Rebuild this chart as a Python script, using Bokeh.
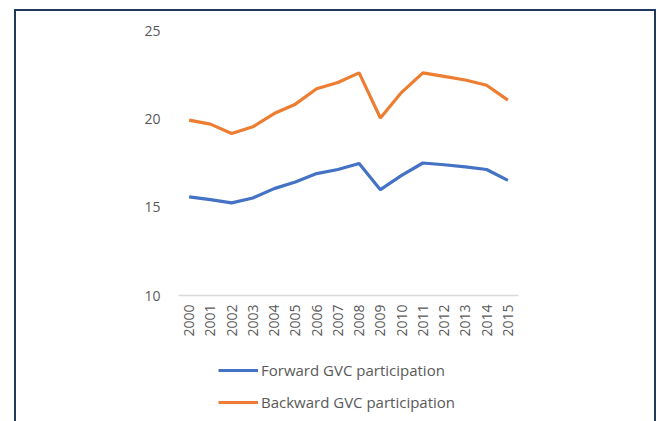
import math
from bokeh.plotting import figure
from bokeh.layouts import column
from bokeh.models import FixedTicker, Legend, LegendItem
from bokeh.embed import file_html
from bokeh.resources import INLINE

years = [str(y) for y in range(2000, 2016)]
forward = [15.58, 15.43, 15.24, 15.52, 16.05, 16.43, 16.9, 17.13, 17.47,
           15.99, 16.8, 17.5, 17.4, 17.28, 17.13, 16.52]
backward = [19.93, 19.7, 19.17, 19.55, 20.3, 20.83, 21.7, 22.06, 22.6,
            20.05, 21.5, 22.6, 22.4, 22.2, 21.9, 21.06]
y_ticks = [10, 15, 20, 25]
series_names = ["Forward GVC participation", "Backward GVC participation"]

FONT = "Open Sans"
GRAY = "#595959"
NAVY = "#1f3a5a"
BLUE = "#4472C4"
ORANGE = "#ED7D31"

# page frame drawn as CSS background lines behind transparent canvases
frame_css = ", ".join([
    f"linear-gradient({NAVY},{NAVY}) 14px 9px / 642px 2px no-repeat",
    f"linear-gradient({NAVY},{NAVY}) 14px 9px / 2px 420px no-repeat",
    f"linear-gradient({NAVY},{NAVY}) 654px 9px / 2px 420px no-repeat",
])

# ---- chart ----
p = figure(frame_width=340, frame_height=265, x_range=years, y_range=(10, 25),
           output_backend="svg", toolbar_location=None,
           min_border_left=178, min_border_right=139,
           min_border_top=30, min_border_bottom=50)
p.outline_line_color = None
p.background_fill_alpha = 0
p.border_fill_alpha = 0
p.xgrid.visible = False
p.ygrid.visible = False

p.line(years, forward, line_color=BLUE, line_width=3.2)
p.line(years, backward, line_color=ORANGE, line_width=3.2)

p.yaxis.ticker = FixedTicker(ticks=y_ticks)
p.yaxis.axis_line_color = None
p.yaxis.major_tick_line_color = None
p.yaxis.minor_tick_line_color = None
p.yaxis.major_label_standoff = 12
p.yaxis.major_label_text_font = FONT
p.yaxis.major_label_text_font_size = "14px"
p.yaxis.major_label_text_color = GRAY

p.xaxis.axis_line_color = "#d9d9d9"
p.xaxis.axis_line_width = 1.5
p.xaxis.major_tick_line_color = None
p.xaxis.minor_tick_line_color = None
p.xaxis.major_tick_in = 0
p.xaxis.major_tick_out = 0
p.xaxis.major_label_orientation = math.pi / 2
p.xaxis.major_label_standoff = 9
p.xaxis.major_label_text_font = FONT
p.xaxis.major_label_text_font_size = "14px"
p.xaxis.major_label_text_color = GRAY

# ---- legend strip below the chart (frame aligned with the chart's) ----
q = figure(width=657, height=76, x_range=years, y_range=(10, 25),
           output_backend="svg", toolbar_location=None,
           min_border=0)
q.axis.visible = False
q.grid.visible = False
q.outline_line_color = None
q.background_fill_alpha = 0
q.border_fill_alpha = 0
l1 = q.line(years, forward, line_color=BLUE, line_width=3.2, visible=False)
l2 = q.line(years, backward, line_color=ORANGE, line_width=3.2, visible=False)

legend = Legend(items=[LegendItem(label=series_names[0], renderers=[l1]),
                       LegendItem(label=series_names[1], renderers=[l2])],
                location=(40, 9), orientation="vertical",
                padding=0, margin=0, spacing=12, glyph_width=40,
                glyph_height=20, label_height=20, label_standoff=3,
                border_line_color=None, background_fill_alpha=0,
                inactive_fill_alpha=0,
                label_text_font=FONT, label_text_font_size="15px",
                label_text_color=GRAY)
q.add_layout(legend, "center")

layout = column(p, q, spacing=0,
                styles={"background": frame_css + ", white"})

open("out.html", "w").write(file_html(layout, INLINE))
